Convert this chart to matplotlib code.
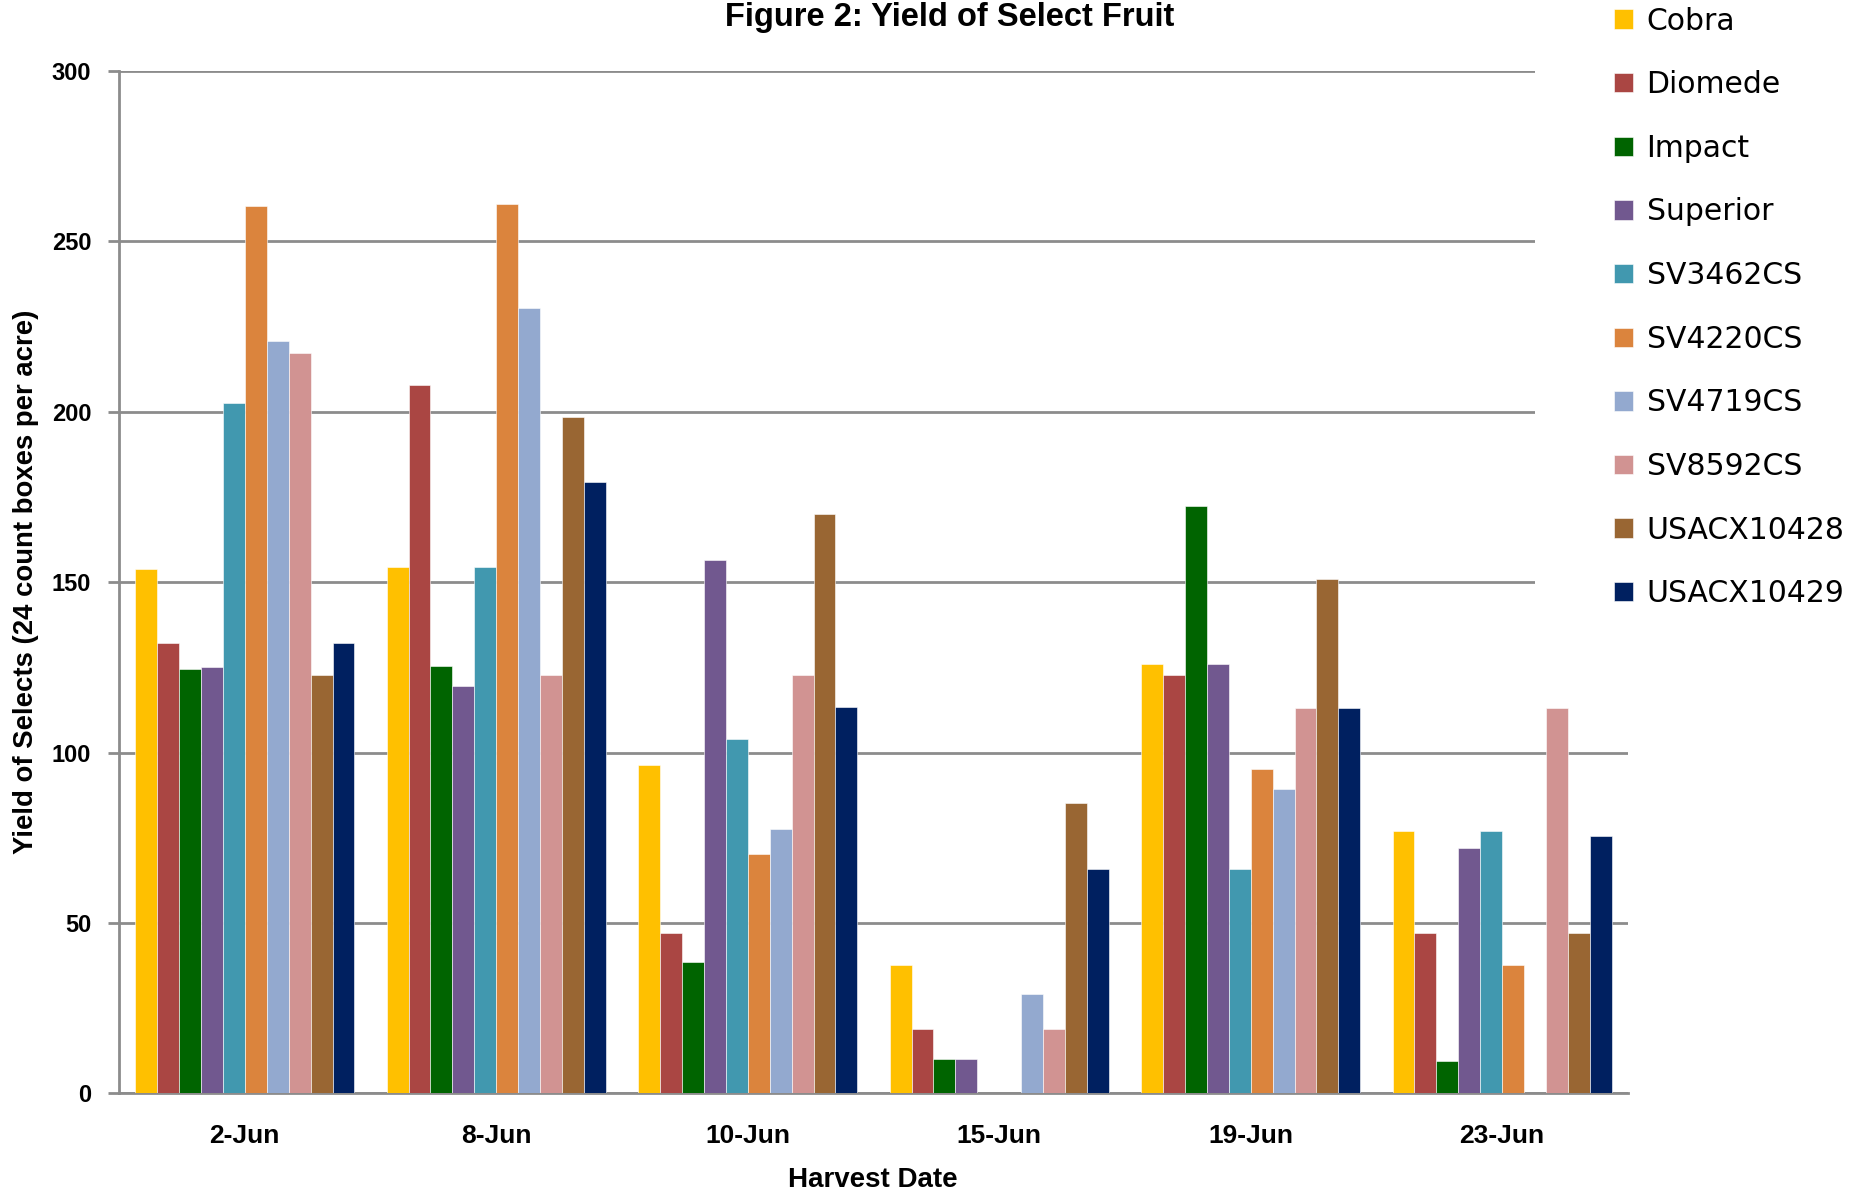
import numpy as np
import matplotlib
matplotlib.use("Agg")
from matplotlib import pyplot as plt

dates = ['2-Jun', '8-Jun', '10-Jun', '15-Jun', '19-Jun', '23-Jun']
varieties = ['Cobra', 'Diomede', 'Impact', 'Superior', 'SV3462CS',
             'SV4220CS', 'SV4719CS', 'SV8592CS', 'USACX10428', 'USACX10429']

cobra      = [153.8, 154.6, 96.3, 37.6, 126.1, 77.1]
diomede    = [132.1, 207.8, 47.2, 18.8, 122.7, 47.2]
impact     = [124.5, 125.3, 38.5, 10.2, 172.5, 9.4]
superior   = [125.0, 119.5, 156.4, 10.2, 126.1, 72.0]
sv3462cs   = [202.7, 154.6, 104.0, 0, 66.0, 77.1]
sv4220cs   = [260.3, 261.0, 70.4, 0, 95.2, 37.8]
sv4719cs   = [220.9, 230.6, 77.5, 29.2, 89.3, 0]
sv8592cs   = [217.2, 122.7, 122.8, 18.8, 113.2, 113.2]
usacx10428 = [122.7, 198.4, 170.1, 85.1, 151.0, 47.2]
usacx10429 = [132.1, 179.5, 113.4, 66.0, 113.2, 75.5]

series = [cobra, diomede, impact, superior, sv3462cs,
          sv4220cs, sv4719cs, sv8592cs, usacx10428, usacx10429]
colors = ['#FFC000', '#AA4643', '#006400', '#71588F', '#4198AF',
          '#DB843D', '#93A9CF', '#D19392', '#996633', '#002060']

label_font = ['Liberation Sans', 'DejaVu Sans']

fig = plt.figure(figsize=(18.69, 11.99), dpi=100)
ax = fig.add_axes([0.0637, 0.088, 0.8073, 0.8528])

x = np.arange(len(dates))
n = len(series)
width = 0.872 / n
for i, (vals, c, name) in enumerate(zip(series, colors, varieties)):
    ax.bar(x - 0.436 + width * (i + 0.5), vals, width, color=c, label=name,
           edgecolor='white', linewidth=0.4, zorder=3)

ax.set_xlim(-0.5, len(dates) - 0.5)
ax.set_ylim(0, 300)
ax.set_yticks(np.arange(0, 301, 50))
ax.yaxis.grid(True, color='#8c8c8c', linewidth=2, zorder=0)
for s in ['top', 'right']:
    ax.spines[s].set_visible(False)
for s in ['left', 'bottom']:
    ax.spines[s].set_color('#8c8c8c')
    ax.spines[s].set_linewidth(2)
ax.tick_params(axis='y', length=8, width=2, color='#8c8c8c', pad=12)
ax.tick_params(axis='x', length=0, pad=22)
ax.set_xticks(x)
ax.set_xticklabels(dates, family=label_font, fontweight='bold', fontsize=19)
for lab in ax.get_yticklabels():
    lab.set_family(label_font)
    lab.set_fontweight('bold')
    lab.set_fontsize(17)

fig.text(0.508, 0.985, 'Figure 2: Yield of Select Fruit', ha='center', va='center',
         family=label_font, fontweight='bold', fontsize=23.5)
fig.text(0.467, 0.016, 'Harvest Date', ha='center', va='center',
         family=label_font, fontweight='bold', fontsize=20)
fig.text(0.014, 0.515, 'Yield of Selects (24 count boxes per acre)', ha='center',
         va='center', rotation=90, family=label_font, fontweight='bold', fontsize=19.8)

# white legend box sits over the upper right of the grid
leg = fig.legend(loc='upper left', bbox_to_anchor=(0.8134, 1.073), frameon=True,
                 fontsize=21.5, handlelength=0.62, handleheight=0.62, handletextpad=0.46,
                 labelspacing=1.16, borderpad=2.65, fancybox=False, framealpha=1)
leg.get_frame().set_edgecolor('none')
leg.get_frame().set_facecolor('white')
leg.set_zorder(10)

fig.savefig('out.png', dpi=100)
